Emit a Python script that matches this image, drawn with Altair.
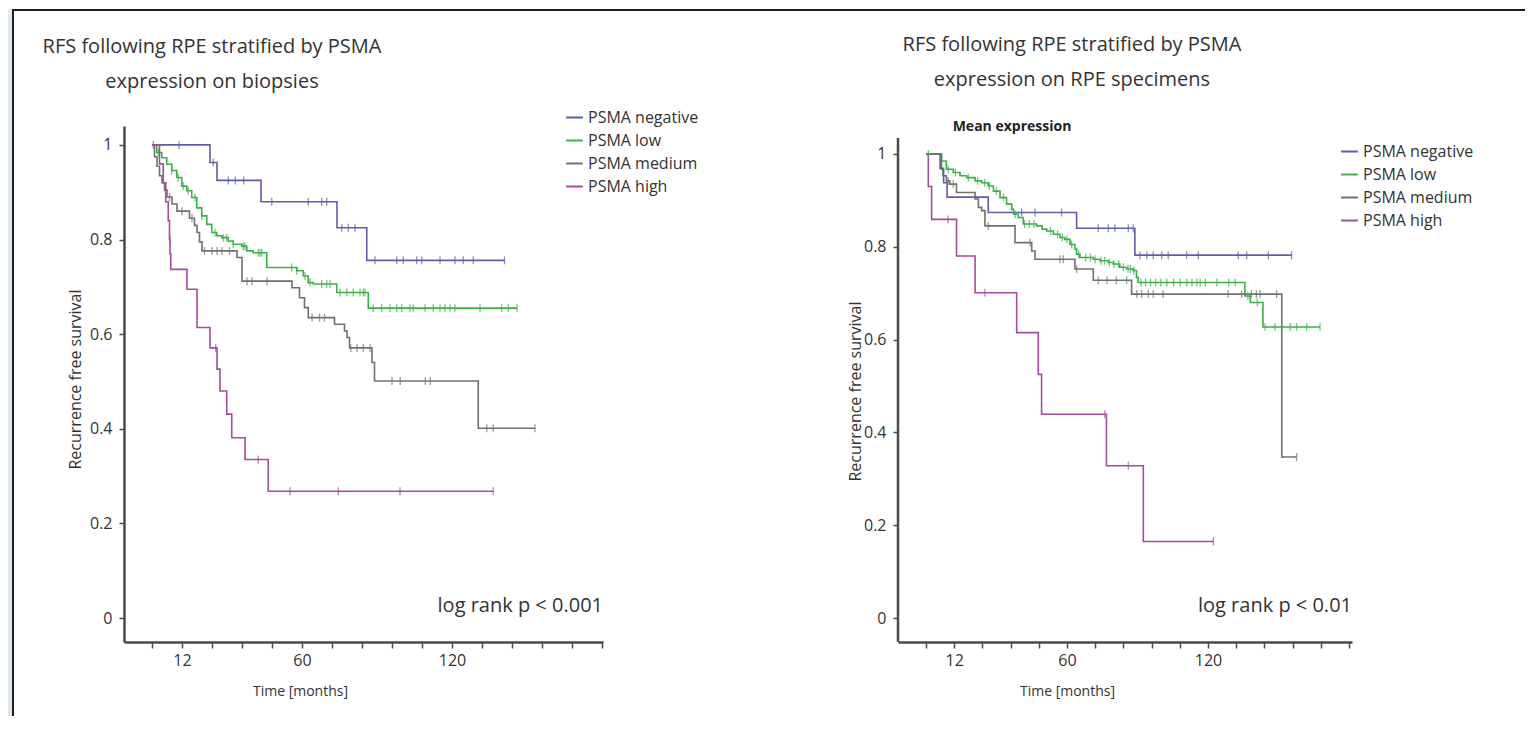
import altair as alt
import pandas as pd

GROUPS = ["PSMA negative", "PSMA low", "PSMA medium", "PSMA high"]
COLORS = ["#5b5ea6", "#3daf4a", "#707070", "#a24c9c"]

TITLE_LEFT = ["RFS following RPE stratified by PSMA", "expression on biopsies"]
TITLE_RIGHT = ["RFS following RPE stratified by PSMA", "expression on RPE specimens"]
SUBTITLE_RIGHT = ["Mean expression"]
PVAL_LEFT = ["log rank p < 0.001"]
PVAL_RIGHT = ["log rank p < 0.01"]
X_TICKS = [0, 12, 24, 36, 48, 60, 72, 84, 96, 108, 120, 132, 144, 156, 168, 180]
X_LABELS = [12, 60, 120]
Y_TICKS = [0, 0.2, 0.4, 0.6, 0.8, 1]

# ---------- Left panel: PSMA expression on biopsies ----------
L_NEG_T = [0, 23.2, 26.0, 43.6, 74.0, 85.9, 141.0]
L_NEG_S = [1.0, 0.963, 0.925, 0.880, 0.825, 0.756, 0.756]
L_NEG_C = [10.8, 24.5, 30.5, 33.3, 36.7, 47.9, 62.5, 67.9, 69.9, 75.9, 78.5, 81.2,
           89.2, 97.9, 100.5, 105.9, 107.9, 115.2, 121.2, 124.5, 128.5, 141.0]

L_LOW_T = [0, 1.9, 3.9, 5.9, 7.9, 9.9, 11.9, 13.9, 15.9, 17.9, 19.9, 21.9, 23.9, 25.9,
           27.9, 30.5, 32.5, 35.9, 37.9, 40.5, 45.9, 57.9, 60.5, 62.5, 64.5, 73.9, 86.5, 146.0]
L_LOW_S = [1.0, 0.984, 0.973, 0.959, 0.946, 0.931, 0.913, 0.903, 0.889, 0.867, 0.850, 0.832,
           0.815, 0.808, 0.804, 0.797, 0.790, 0.786, 0.776, 0.772, 0.741, 0.734, 0.723, 0.709,
           0.706, 0.688, 0.655, 0.655]
L_LOW_C = [2.5, 7.9, 10.5, 12.5, 14.5, 17.2, 19.9, 25.2, 28.5, 29.9, 32.5, 36.5, 37.2, 42.5,
           43.2, 43.9, 55.9, 57.9, 61.2, 63.2, 67.9, 69.9, 71.2, 75.2, 77.9, 80.5, 83.2, 84.5,
           85.2, 88.5, 91.9, 95.2, 97.9, 99.9, 103.2, 104.5, 109.2, 112.5, 115.2, 117.2, 119.2,
           121.2, 131.2, 139.9, 142.5, 146.0]

L_MED_T = [0, 1, 2, 3, 4, 5, 6, 8, 10, 15, 17, 18, 19, 20, 34, 36, 56, 59, 61, 62.5, 73, 77,
           78, 79, 88, 89, 130.5, 153.2]
L_MED_S = [1.0, 0.975, 0.955, 0.935, 0.92, 0.905, 0.89, 0.875, 0.86, 0.845, 0.83, 0.815, 0.795,
           0.776, 0.762, 0.712, 0.698, 0.677, 0.656, 0.635, 0.621, 0.607, 0.593, 0.571, 0.54,
           0.501, 0.401, 0.401]
L_MED_C = [7, 12, 16, 21, 24, 26, 28, 31, 38, 40, 46, 64, 67, 69, 79.5, 82, 84.5, 87.2, 96,
           99.3, 109.3, 111.3, 133.9, 136.5, 153.2]

L_HIGH_T = [0, 3, 4.5, 5.5, 6.5, 7.0, 7.2, 7.5, 14, 18, 23.2, 26, 27.2, 29.9, 31.9, 37.2,
            46.5, 136.5]
L_HIGH_S = [1.0, 0.96, 0.92, 0.88, 0.84, 0.80, 0.77, 0.737, 0.695, 0.614, 0.571, 0.526, 0.48,
            0.431, 0.381, 0.335, 0.268, 0.268]
L_HIGH_C = [0.5, 7.1, 25.5, 42.5, 55.2, 74.5, 99.2, 136.5]

# ---------- Right panel: PSMA expression on RPE specimens ----------
R_NEG_T = [0, 6, 7.5, 9, 26.5, 64.1, 88.9, 155.6]
R_NEG_S = [1.0, 0.969, 0.938, 0.907, 0.874, 0.840, 0.782, 0.782]
R_NEG_C = [40.7, 46.4, 57.7, 73.3, 77.6, 80.4, 86.1, 88.2, 91.1, 94.0, 96.7, 100.3, 103.1,
           110.9, 115.9, 132.9, 136.5, 145.7, 155.6]

R_LOW_T = [0, 6.6, 8.7, 11.6, 14.5, 17.3, 20.9, 23.7, 26.5, 28.7, 31.5, 34.3, 36.5, 37.2,
           39.3, 41.4, 47.1, 49.4, 51.4, 54.2, 57.0, 59.1, 61.3, 63.4, 64.1, 65.5, 71.2, 74.0,
           77.6, 79.7, 82.5, 85.4, 88.2, 89.6, 90.3, 135.7, 138.0, 143.4, 167.7]
R_LOW_S = [1.0, 0.985, 0.967, 0.960, 0.953, 0.949, 0.942, 0.938, 0.931, 0.920, 0.906, 0.892,
           0.881, 0.870, 0.863, 0.849, 0.845, 0.838, 0.834, 0.827, 0.820, 0.816, 0.805, 0.795,
           0.784, 0.777, 0.773, 0.770, 0.766, 0.763, 0.756, 0.752, 0.749, 0.734, 0.723, 0.694,
           0.680, 0.627, 0.627]
R_LOW_C = [1.0, 9.5, 12.5, 18, 22, 25, 27, 30, 33, 38, 42, 44, 46, 53, 56, 58, 60, 62, 65, 68,
           70, 72, 74.5, 76, 78, 80, 82, 84, 86, 87, 88.5, 91.5, 93.5, 95.6, 97.7, 99.9, 102.5,
           105.4, 108.2, 111, 113.2, 115.3, 116.7, 118.9, 123.8, 128.8, 131.6, 137, 141, 144.3,
           148.5, 151.4, 155, 157.7, 162, 167.7]

R_MED_T = [0, 6.6, 7.2, 8.7, 10.1, 13.0, 20.9, 22.3, 23.7, 25.1, 37.9, 45.0, 46.4, 63.4, 71.2,
           87.5, 151.4, 157.7]
R_MED_S = [1.0, 0.967, 0.953, 0.942, 0.935, 0.917, 0.903, 0.885, 0.878, 0.845, 0.809, 0.791,
           0.773, 0.752, 0.728, 0.698, 0.347, 0.347]
R_MED_C = [9.4, 11.6, 26.5, 44.3, 57.0, 58.4, 64.1, 73.3, 77.0, 81.0, 85.4, 89.7, 91.8, 94.6,
           96.7, 100.9, 128.6, 134.3, 138.5, 140.6, 142.1, 149.2, 157.7]

R_HIGH_T = [0, 1.0, 2.4, 13.0, 20.9, 38.6, 47.8, 49.2, 76.8, 92.5, 122.3]
R_HIGH_S = [1.0, 0.93, 0.859, 0.780, 0.701, 0.615, 0.525, 0.439, 0.328, 0.165, 0.165]
R_HIGH_C = [9.4, 25.1, 76.1, 86.1, 122.3]

FONT = "Open Sans"
AXIS_COLOR = "#4a4a4a"
TEXT_COLOR = "#333333"


def surv_at(ts, ss, t):
    v = ss[0]
    for ti, si in zip(ts, ss):
        if ti <= t:
            v = si
    return v


def curves(series):
    rows = []
    for g, ts, ss, _ in series:
        for t, s in zip(ts, ss):
            rows.append({"group": g, "t": t, "s": s})
    return pd.DataFrame(rows)


def censors(series):
    rows = []
    for g, ts, ss, cs in series:
        for c in cs:
            rows.append({"group": g, "t": c, "s": surv_at(ts, ss, c)})
    return pd.DataFrame(rows)


def text_layer(lines, x, y, size, align="center", weight="normal", font=FONT, color=TEXT_COLOR):
    return alt.Chart(pd.DataFrame({"txt": lines})).mark_text(
        align=align, baseline="middle", font=font, fontSize=size, fontWeight=weight,
        color=color
    ).encode(text="txt:N", x=alt.value(x), y=alt.value(y))


def panel(series, width, height, xdom, ydom, legend_xy, x_title_x, y_title_xy, show_y_domain):
    color_scale = alt.Scale(domain=GROUPS, range=COLORS)
    label_test = " || ".join(f"datum.value == {v}" for v in X_LABELS)
    x_axis = alt.Axis(
        values=X_TICKS, tickCount=40,
        labelExpr=f"({label_test}) ? datum.label : ''",
        labelOverlap=False, grid=False, tickSize=6, tickWidth=1.5, tickColor=AXIS_COLOR,
        domainColor=AXIS_COLOR, domainWidth=2.5, labelFont=FONT, labelFontSize=16,
        labelColor=TEXT_COLOR, labelPadding=4, title="Time [months]", titleFont=FONT,
        titleFontSize=14, titleFontWeight="normal", titleColor=TEXT_COLOR,
        titleX=x_title_x, titleY=49, titleAlign="center", titleBaseline="middle",
    )
    y_axis = alt.Axis(
        values=Y_TICKS, tickCount=20, format="~g", grid=False, tickSize=5, tickWidth=1.5,
        tickColor=AXIS_COLOR, domain=show_y_domain, domainColor=AXIS_COLOR, domainWidth=2.5,
        labelFont=FONT, labelFontSize=16, labelColor=TEXT_COLOR, labelPadding=7,
        title="Recurrence free survival", titleFont=FONT, titleFontSize=16,
        titleFontWeight="normal", titleColor=TEXT_COLOR, titleX=y_title_xy[0],
        titleY=y_title_xy[1], titleAlign="center", titleBaseline="middle", titleAngle=-90,
    )
    x = alt.X("t:Q", scale=alt.Scale(domain=xdom, nice=False, zero=False), axis=x_axis)
    y = alt.Y("s:Q", scale=alt.Scale(domain=ydom, nice=False, zero=False), axis=y_axis)

    lines = alt.Chart(curves(series)).mark_line(
        interpolate="step-after", strokeWidth=1.6
    ).encode(
        x=x, y=y,
        color=alt.Color("group:N", scale=color_scale, sort=GROUPS,
                        legend=alt.Legend(
                            orient="none", legendX=legend_xy[0], legendY=legend_xy[1],
                            title=None, symbolType="stroke", symbolStrokeWidth=2,
                            symbolSize=280, labelFont=FONT, labelFontSize=16,
                            labelColor=TEXT_COLOR, rowPadding=5, labelOffset=4)),
        detail="group:N",
    )
    ticks = alt.Chart(censors(series)).mark_tick(
        orient="vertical", size=8, thickness=1.3
    ).encode(
        x=alt.X("t:Q"), y=alt.Y("s:Q"),
        color=alt.Color("group:N", scale=color_scale, legend=None),
    )
    return lines, ticks


left_series = [
    ("PSMA negative", L_NEG_T, L_NEG_S, L_NEG_C),
    ("PSMA low", L_LOW_T, L_LOW_S, L_LOW_C),
    ("PSMA medium", L_MED_T, L_MED_S, L_MED_C),
    ("PSMA high", L_HIGH_T, L_HIGH_S, L_HIGH_C),
]
right_series = [
    ("PSMA negative", R_NEG_T, R_NEG_S, R_NEG_C),
    ("PSMA low", R_LOW_T, R_LOW_S, R_LOW_C),
    ("PSMA medium", R_MED_T, R_MED_S, R_MED_C),
    ("PSMA high", R_HIGH_T, R_HIGH_S, R_HIGH_C),
]

LW, RW, H = 479, 454, 516

l_lines, l_ticks = panel(left_series, LW, H, [-11.2, 180.4], [-0.0507, 1.040],
                         (441, -18), 176, (-49, 253), True)
r_lines, r_ticks = panel(right_series, RW, H, [-11.9, 181.3], [-0.0517, 1.0603],
                         (442, 16), 169, (-43, 265), False)

one = pd.DataFrame({"k": [0]})
frame_strip = alt.Chart(one).mark_rect(color="#dfe7ef").encode(
    x=alt.value(-116), x2=alt.value(-111), y=alt.value(-117), y2=alt.value(590))
frame_left = alt.Chart(one).mark_rule(color="#1e1e1e", strokeWidth=2).encode(
    x=alt.value(-111), y=alt.value(-117), y2=alt.value(590))
frame_top = alt.Chart(one).mark_rule(color="#1e1e1e", strokeWidth=2).encode(
    x=alt.value(-112), x2=alt.value(1401), y=alt.value(-116))
r_yaxis_line = alt.Chart(one).mark_rule(color=AXIS_COLOR, strokeWidth=2.5).encode(
    x=alt.value(0), y=alt.value(12), y2=alt.value(H))

left = alt.layer(
    frame_strip, frame_left, frame_top,
    l_lines, l_ticks,
    text_layer([TITLE_LEFT[0]], 88, -79, 20),
    text_layer([TITLE_LEFT[1]], 88, -44, 20),
    text_layer(PVAL_LEFT, LW, 480, 20, align="right"),
).properties(width=LW, height=H)

right = alt.layer(
    r_yaxis_line,
    r_lines, r_ticks,
    text_layer([TITLE_RIGHT[0]], 174, -81, 20),
    text_layer([TITLE_RIGHT[1]], 174, -46, 20),
    text_layer(SUBTITLE_RIGHT, 114, 1, 14, weight="bold", color="#222222"),
    text_layer(PVAL_RIGHT, RW, 480, 20, align="right"),
).properties(width=RW, height=H)

chart = alt.hconcat(left, right, spacing=295, bounds="flush").resolve_scale(
    x="independent", y="independent", color="independent"
).properties(padding=0, background="white").configure_view(stroke=None)

chart.save("out.html", embed_options={"renderer": "svg", "actions": False})
